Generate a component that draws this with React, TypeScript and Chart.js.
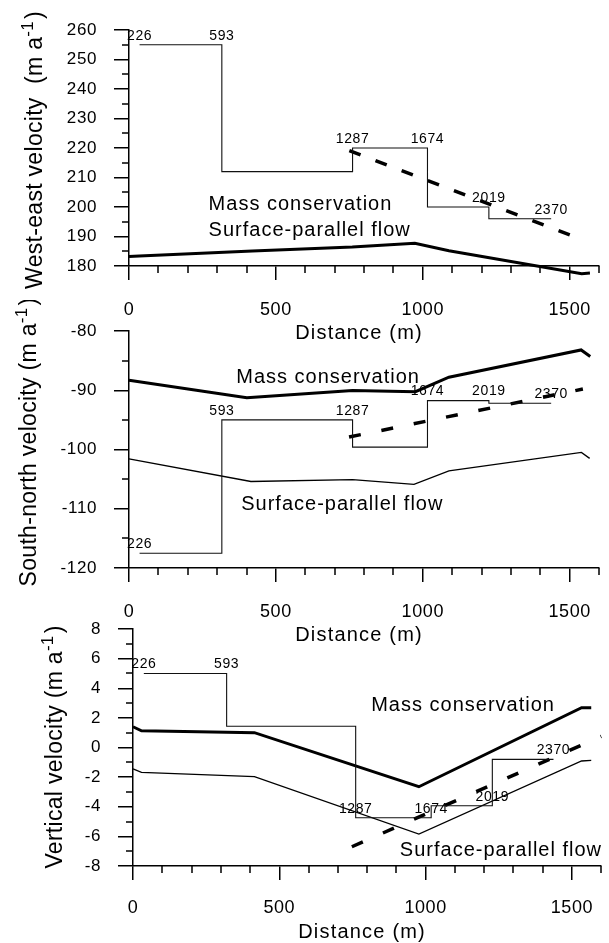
import React, { useEffect, useRef } from 'react';
import { Chart, registerables } from 'chart.js';

Chart.register(...registerables);

const FONT = '"Liberation Sans", Arial, Helvetica, sans-serif';

// ---------- shared ----------
const stakeLabels = ['226', '593', '1287', '1674', '2019', '2370'];
const xTickValues = [0, 500, 1000, 1500];
const xMin = 0;
const xMax = 1600;
const xMinorStep = 100;
const xTitle = 'Distance (m)';
const massLabel = 'Mass conservation';
const surfLabel = 'Surface-parallel flow';

// ---------- panel 1 : west-east velocity ----------
const weStepX = [36, 316, 761, 1016, 1225, 1437];
const weStepY = [255, 212, 220, 200, 196, 196];
const weMassX = [0, 35, 420, 760, 973, 1089, 1541, 1569];
const weMassY = [183.2, 183.4, 185.1, 186.4, 187.7, 185.2, 177.4, 177.6];
const weDashX = [750, 1540];
const weDashY = [219.1, 189.0];

// ---------- panel 2 : south-north velocity ----------
const snStepX = [36, 316, 761, 1016, 1225, 1437];
const snStepY = [-117.5, -95, -99.6, -91.75, -92.2, -92.2];
const snMassX = [0, 401, 761, 975, 1089, 1539, 1570];
const snMassY = [-88.3, -91.25, -90.05, -90.25, -87.8, -83.2, -84.3];
const snSurfX = [0, 415, 761, 970, 1089, 1540, 1568];
const snSurfY = [-101.6, -105.4, -105.1, -105.9, -103.6, -100.5, -101.5];
const snDashX = [749, 1545];
const snDashY = [-97.9, -89.8];

// ---------- panel 3 : vertical velocity ----------
const vStepX = [37, 320, 761, 1019, 1228, 1437];
const vStepY = [5, 1.43, -4.74, -3.93, -0.8, -0.8];
const vMassX = [0, 29, 415, 977, 1533, 1566];
const vMassY = [1.4, 1.13, 1.0, -2.65, 2.69, 2.69];
const vSurfX = [0, 29, 415, 977, 1533, 1566];
const vSurfY = [-1.45, -1.68, -1.97, -5.84, -0.91, -0.87];
const vDashX = [748, 1600];
const vDashY = [-6.7, 0.75];

type LineSpec = { x: number[]; y: number[]; width: number; dash?: number[] };
type Spec = {
  top: number;
  height: number;
  padTop: number;
  padRight: number;
  yAxisWidth: number;
  xAxisHeight: number;
  xTickPad: number;
  yMin: number;
  yMax: number;
  yStep: number;
  yMinor: number;
  stepX: number[];
  stepY: number[];
  stakeLevel: number[];
  lines: LineSpec[];
  massAt: [number, number];
  surfAt: [number, number];
  yTitle: string;
  yTitleBaseX: number;
  yTitleCenterY: number;
  xTitleDY: number;
};

const specs: Spec[] = [
  {
    top: 0, height: 350, padTop: 30, padRight: 5, yAxisWidth: 129, xAxisHeight: 84, xTickPad: 19,
    yMin: 180, yMax: 260, yStep: 10, yMinor: 5,
    stepX: weStepX, stepY: weStepY,
    stakeLevel: [255, 255, 220, 220, 200, 196],
    lines: [
      { x: weMassX, y: weMassY, width: 3 },
      { x: weDashX, y: weDashY, width: 3.5, dash: [12, 16] },
    ],
    massAt: [271, 200.7], surfAt: [271, 192.2],
    yTitle: 'West-east velocity  (m a', yTitleBaseX: 42, yTitleCenterY: 150, xTitleDY: 67,
  },
  {
    top: 300, height: 350, padTop: 31, padRight: 5, yAxisWidth: 129, xAxisHeight: 82, xTickPad: 19,
    yMin: -120, yMax: -80, yStep: 10, yMinor: 5,
    stepX: snStepX, stepY: snStepY,
    stakeLevel: [-117.5, -95, -95, -91.75, -91.75, -92.2],
    lines: [
      { x: snMassX, y: snMassY, width: 3 },
      { x: snSurfX, y: snSurfY, width: 1.3 },
      { x: snDashX, y: snDashY, width: 3.5, dash: [12, 21] },
    ],
    massAt: [365, -87.9], surfAt: [382, -109.2],
    yTitle: 'South-north velocity (m a', yTitleBaseX: 36, yTitleCenterY: 442, xTitleDY: 67,
  },
  {
    top: 600, height: 343, padTop: 29, padRight: 1, yAxisWidth: 133, xAxisHeight: 77, xTickPad: 17,
    yMin: -8, yMax: 8, yStep: 2, yMinor: 1,
    stepX: vStepX, stepY: vStepY,
    stakeLevel: [5, 5, -4.74, -4.74, -3.93, -0.8],
    lines: [
      { x: vMassX, y: vMassY, width: 3 },
      { x: vSurfX, y: vSurfY, width: 1.3 },
      { x: vDashX, y: vDashY, width: 3.5, dash: [12, 22] },
    ],
    massAt: [814, 2.82], surfAt: [912, -6.97],
    yTitle: 'Vertical velocity (m a', yTitleBaseX: 62, yTitleCenterY: 747, xTitleDY: 66,
  },
];

function drawText(ctx: CanvasRenderingContext2D, s: string, x: number, y: number, size: number,
  align: CanvasTextAlign, spacing: string) {
  ctx.save();
  ctx.font = `${size}px ${FONT}`;
  (ctx as any).letterSpacing = spacing;
  ctx.textAlign = align;
  ctx.textBaseline = 'middle';
  ctx.fillStyle = '#000';
  ctx.fillText(s, x, y);
  ctx.restore();
}

function drawYTitle(ctx: CanvasRenderingContext2D, main: string, baseX: number, centerY: number) {
  ctx.save();
  ctx.translate(baseX, centerY);
  ctx.rotate(-Math.PI / 2);
  ctx.fillStyle = '#000';
  ctx.textBaseline = 'alphabetic';
  ctx.textAlign = 'left';
  (ctx as any).letterSpacing = '0.3px';
  const big = `23px ${FONT}`;
  const small = `17px ${FONT}`;
  ctx.font = big;
  const w1 = ctx.measureText(main).width;
  const w3 = ctx.measureText(')').width;
  ctx.font = small;
  const w2 = ctx.measureText('-1').width;
  let x = -(w1 + w2 + w3 + 2) / 2;
  ctx.font = big;
  ctx.fillText(main, x, 0);
  x += w1;
  ctx.font = small;
  ctx.fillText('-1', x, -9.5);
  x += w2 + 2;
  ctx.font = big;
  ctx.fillText(')', x, 0);
  ctx.restore();
}

function Panel({ spec }: { spec: Spec }) {
  const ref = useRef<HTMLCanvasElement>(null);
  useEffect(() => {
    const canvas = ref.current;
    if (!canvas) return;
    const toPts = (xs: number[], ys: number[]) => xs.map((x, i) => ({ x, y: ys[i] }));
    const datasets: any[] = [
      {
        data: toPts(spec.stepX, spec.stepY), stepped: 'before', borderColor: '#111',
        borderWidth: 1.1, pointRadius: 0, fill: false, clip: false,
      },
      ...spec.lines.map((l) => ({
        data: toPts(l.x, l.y), borderColor: '#000', borderWidth: l.width,
        borderDash: l.dash || [], borderCapStyle: 'butt', borderJoinStyle: 'miter',
        pointRadius: 0, fill: false, tension: 0, clip: false,
      })),
    ];

    const decor = {
      id: 'decor',
      beforeDraw(chart: any) {
        chart.ctx.letterSpacing = '0.6px';
      },
      afterDraw(chart: any) {
        const ctx: CanvasRenderingContext2D = chart.ctx;
        const xs = chart.scales.x;
        const ys = chart.scales.y;
        const ca = chart.chartArea;
        ctx.save();
        ctx.strokeStyle = '#000';
        ctx.lineWidth = 1.5;
        ctx.beginPath();
        for (let v = xMin; v <= xMax; v += xMinorStep) {
          if (xTickValues.includes(v)) continue;
          const px = Math.round(xs.getPixelForValue(v));
          ctx.moveTo(px, ca.bottom);
          ctx.lineTo(px, ca.bottom + 7);
        }
        for (let v = spec.yMin; v <= spec.yMax; v += spec.yMinor) {
          if (Math.abs((v - spec.yMin) % spec.yStep) < 1e-6) continue;
          const py = Math.round(ys.getPixelForValue(v));
          ctx.moveTo(ca.left - 7, py);
          ctx.lineTo(ca.left, py);
        }
        ctx.stroke();
        ctx.restore();

        stakeLabels.forEach((lab, i) => {
          const px = xs.getPixelForValue(spec.stepX[i]);
          const py = ys.getPixelForValue(spec.stakeLevel[i]);
          drawText(ctx, lab, px, py - 9, 14, 'center', '0.6px');
        });
        drawText(ctx, massLabel, xs.getPixelForValue(spec.massAt[0]), ys.getPixelForValue(spec.massAt[1]), 20, 'left', '1px');
        drawText(ctx, surfLabel, xs.getPixelForValue(spec.surfAt[0]), ys.getPixelForValue(spec.surfAt[1]), 20, 'left', '1px');
        drawText(ctx, xTitle, (ca.left + ca.right) / 2 - 5, ca.bottom + spec.xTitleDY, 20, 'center', '1.2px');
        drawYTitle(ctx, spec.yTitle, spec.yTitleBaseX, spec.yTitleCenterY - spec.top);
      },
    };

    const chart = new Chart(canvas, {
      type: 'line',
      data: { datasets },
      options: {
        responsive: false,
        animation: false,
        events: [],
        layout: { padding: { left: 0, right: spec.padRight, top: spec.padTop, bottom: 0 } },
        plugins: { legend: { display: false }, tooltip: { enabled: false }, title: { display: false } },
        scales: {
          x: {
            type: 'linear', min: xMin, max: xMax,
            afterBuildTicks: (s: any) => { s.ticks = xTickValues.map((v) => ({ value: v })); },
            afterFit: (s: any) => { s.height = spec.xAxisHeight; },
            ticks: {
              font: { family: FONT, size: 18 }, color: '#000', padding: spec.xTickPad,
              maxRotation: 0, autoSkip: false, callback: (v: any) => String(v),
            },
            grid: { drawOnChartArea: false, tickLength: 14, color: '#000', lineWidth: 1.5 },
            border: { color: '#000', width: 1.5 },
          },
          y: {
            type: 'linear', min: spec.yMin, max: spec.yMax,
            afterFit: (s: any) => { s.width = spec.yAxisWidth; },
            ticks: {
              stepSize: spec.yStep, font: { family: FONT, size: 17 }, color: '#000', padding: 17,
              callback: (v: any) => String(v),
            },
            grid: { drawOnChartArea: false, tickLength: 15, color: '#000', lineWidth: 1.5 },
            border: { color: '#000', width: 1.5 },
          },
        },
      } as any,
      plugins: [decor],
    });
    return () => chart.destroy();
  }, [spec]);
  return (
    <canvas
      ref={ref}
      width={609}
      height={spec.height}
      style={{ position: 'absolute', left: 0, top: spec.top, width: 609, height: spec.height }}
    />
  );
}

export default function App() {
  return (
    <div style={{ position: 'absolute', left: 0, top: 0, width: 609, height: 943, background: '#fff', overflow: 'hidden' }}>
      {specs.map((s, i) => (
        <Panel key={i} spec={s} />
      ))}
    </div>
  );
}
